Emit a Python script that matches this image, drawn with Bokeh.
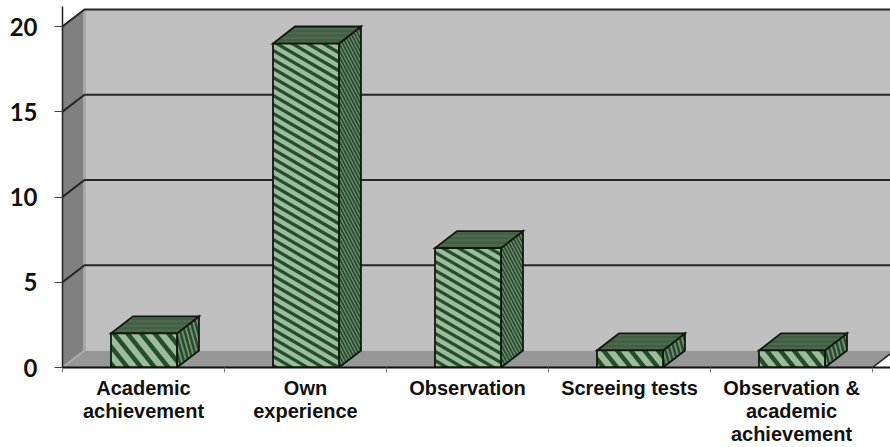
from bokeh.plotting import figure
from bokeh.models import Range1d, FixedTicker, LinearAxis
from bokeh.embed import file_html
from bokeh.resources import INLINE

categories = ["Academic\nachievement", "Own\nexperience", "Observation", "Screeing tests", "Observation &\nacademic\nachievement"]
values = [2, 19, 7, 1, 1]
y_ticks = [0, 5, 10, 15, 20]

W, H = 890, 447
LEFT, ZERO_Y, TOP_Y = 62, 367, 6
SX, SY = 162.0, 17.05          # pixels per category, pixels per unit
DX, DY = 22 / SX, 1.0          # depth of the 3-D box
BAR_W = 66 / SX
Y_MAX = (ZERO_Y - TOP_Y) / SY
X_MAX = (W - LEFT) / SX

p = figure(width=W, height=H, output_backend="svg", toolbar_location=None,
           x_range=Range1d(0, X_MAX), y_range=Range1d(0, Y_MAX),
           x_axis_location=None, y_axis_location=None,
           min_border_left=LEFT, min_border_right=0, min_border_top=TOP_Y, min_border_bottom=H - ZERO_Y)
p.outline_line_color = None
p.grid.visible = False
p.background_fill_color = None
p.border_fill_color = "white"


def clip(poly, slope, limit, keep_above):
    """Clip a pixel polygon by the half plane t >= limit (or <=), t = y - slope * x."""
    out = []
    f = lambda q: (q[1] - slope * q[0] - limit) * (1 if keep_above else -1)
    for a, b in zip(poly, poly[1:] + poly[:1]):
        fa, fb = f(a), f(b)
        if fa >= 0:
            out.append(a)
        if fa * fb < 0:
            s = fa / (fa - fb)
            out.append((a[0] + s * (b[0] - a[0]), a[1] + s * (b[1] - a[1])))
    return out


def striped(xs, ys, base, stripe, slope, period, frac):
    """A face of a bar: flat fill plus slanted bands clipped to the face."""
    p.patch(xs, ys, fill_color=base, line_color=None)
    poly = [(x * SX, -y * SY) for x, y in zip(xs, ys)]
    ts = [q[1] - slope * q[0] for q in poly]
    k = int(min(ts) // period)
    sx, sy = [], []
    while k * period < max(ts):
        band = clip(poly, slope, k * period, True)
        band = clip(band, slope, k * period + frac * period, False) if band else band
        if len(band) > 2:
            sx.append([q[0] / SX for q in band])
            sy.append([-q[1] / SY for q in band])
        k += 1
    p.patches(sx, sy, fill_color=stripe, line_color=None)
    p.patch(xs, ys, fill_color=None, line_color="#101810", line_width=1.8, line_join="miter")


# walls and floor
p.patch([0, DX, DX, 0], [0, DY, y_ticks[-1] + DY, y_ticks[-1]], fill_color="#808080", line_color=None)
p.patch([DX, X_MAX, X_MAX, DX], [DY, DY, y_ticks[-1] + DY, y_ticks[-1] + DY], fill_color="#C0C0C0", line_color=None)
p.patch([0, DX, 5 + DX, 5], [0, DY, DY, 0], fill_color="#979797", line_color=None)
p.line([DX, DX], [DY, y_ticks[-1] + DY], line_color="#A8A8A8", line_width=3)
p.line([0, DX], [0, DY], line_color="#ABABAB", line_width=2)
for t in y_ticks[1:]:
    p.line([0, DX, X_MAX], [t, t + DY, t + DY], line_color="#262626", line_width=2)
p.line([5, 5 + DX], [0, DY], line_color="#222222", line_width=1.5)

# bars
for i, v in enumerate(values):
    x0 = i + 0.5 - BAR_W / 2 + 0.003
    x1 = x0 + BAR_W
    tall = v > 5
    striped([x1, x1 + DX, x1 + DX, x1], [0, DY, v + DY, v], "#6F8F70", "#2A4A30",
            1.9 if tall else 3.6, 6.5 if tall else 16, 0.55)
    striped([x0, x1, x1 + DX, x0 + DX], [v, v, v + DY, v + DY], "#4E6A4E", "#425E43", 0, 4.5, 0.5)
    striped([x0, x1, x1, x0], [0, 0, v, v], "#9DBC9C", "#234E2E",
            0.58 if tall else 1.25, 9 if tall else 17, 0.42)

yaxis = LinearAxis(ticker=FixedTicker(ticks=y_ticks), axis_line_color="#222222", axis_line_width=1.5,
                   major_tick_line_color="#444444", major_tick_out=8, major_tick_in=0, minor_tick_line_color=None,
                   major_label_text_font="Lato", major_label_text_font_style="bold",
                   major_label_text_font_size="24px", major_label_text_color="#111111", major_label_standoff=17)
p.add_layout(yaxis, "left")

centers = [i + 0.5 for i in range(len(categories))]
edges = list(range(len(categories) + 1))
xaxis = LinearAxis(ticker=FixedTicker(ticks=centers, minor_ticks=edges), axis_line_color="#111111", axis_line_width=2,
                   major_tick_line_color=None, minor_tick_line_color="#777777", minor_tick_out=5, minor_tick_in=0,
                   major_tick_out=5, major_tick_in=0,
                   major_label_overrides=dict(zip(centers, categories)),
                   major_label_text_font="Liberation Sans", major_label_text_font_style="bold",
                   major_label_text_font_size="20px", major_label_text_color="#111111", major_label_standoff=4,
                   major_label_text_line_height=1.05)
p.add_layout(xaxis, "below")

open("out.html", "w").write(file_html(p, INLINE))
